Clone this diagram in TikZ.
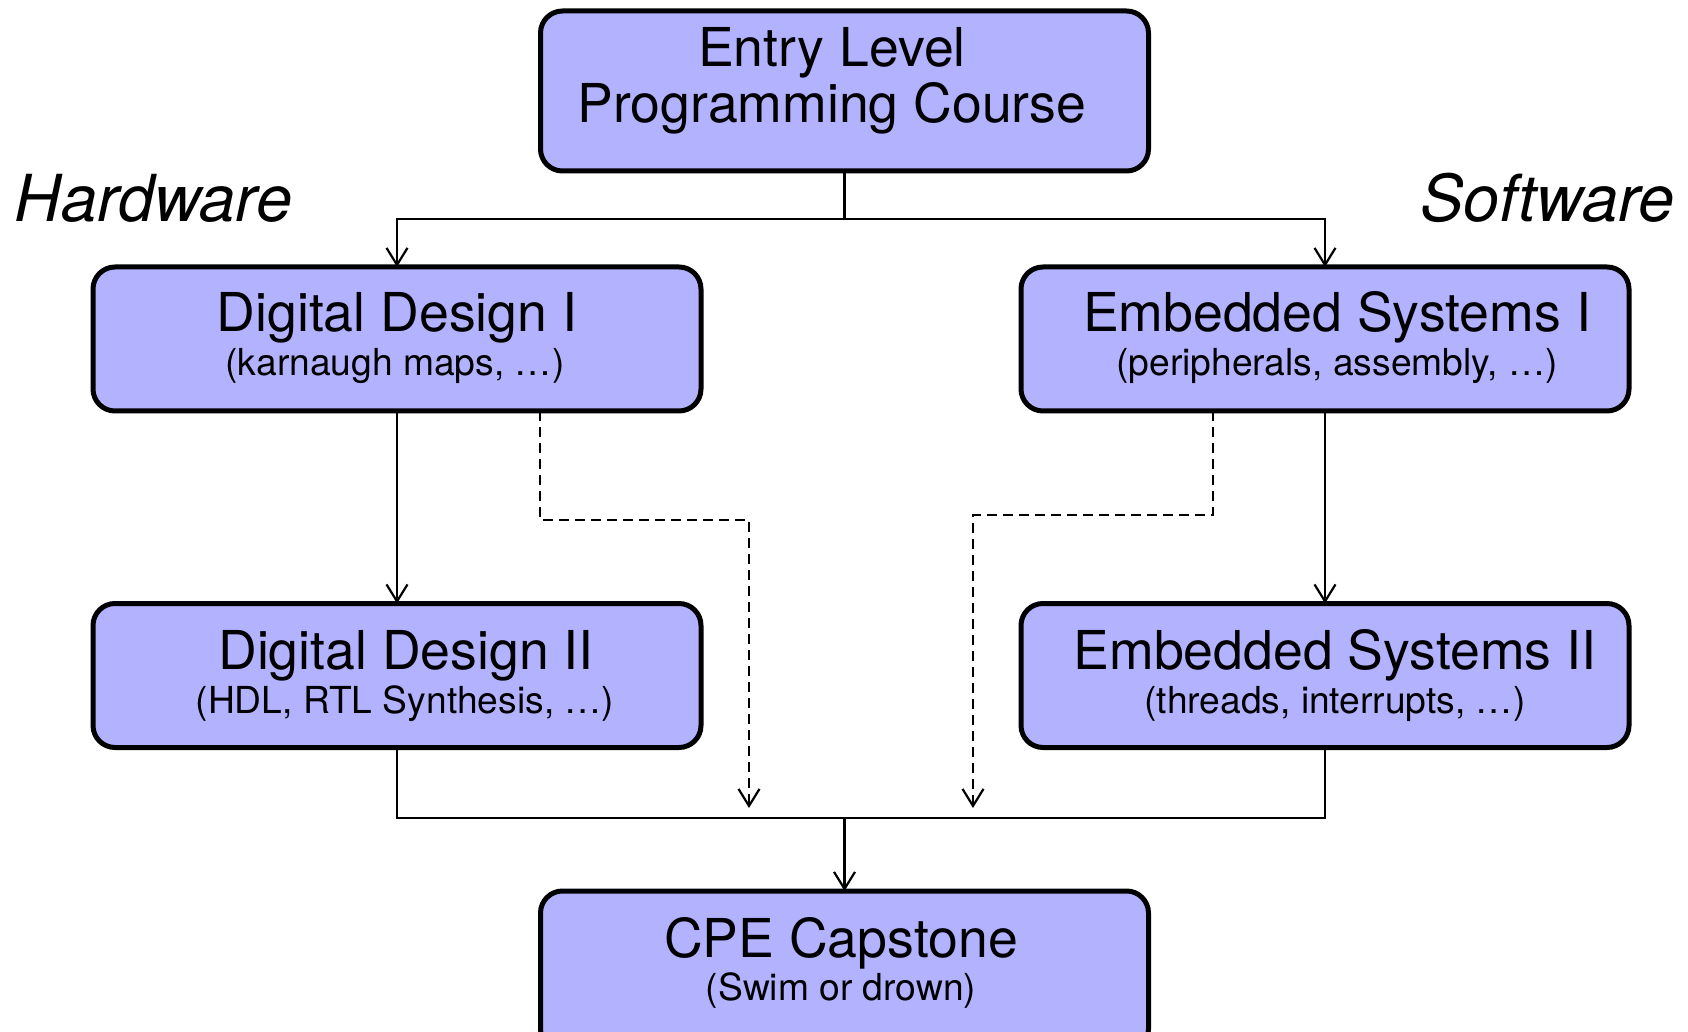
\documentclass[tikz,border=0pt]{standalone}
\usepackage{fontspec}
\setmainfont{TeX Gyre Heros}
\usetikzlibrary{arrows.meta}
\begin{document}
\begin{tikzpicture}[x=0.5pt,y=-0.5pt,
  course/.style={draw=black, line width=2.5pt, fill=blue!30, rounded corners=11pt,
                 minimum width=304pt, inner sep=0pt, outer sep=0pt},
  low/.style={minimum height=72pt},
  high/.style={minimum height=80pt},
  ctitle/.style={anchor=base, inner sep=0pt, font=\fontsize{26.8}{29}\selectfont},
  csub/.style={anchor=base, inner sep=0pt, font=\fontsize{18.6}{20}\selectfont},
  track/.style={anchor=base, inner sep=0pt, font=\fontsize{32.4}{35}\selectfont\itshape},
  link/.style={line width=1.1pt},
  arr/.style={link, -{Straight Barb[length=8.5pt,width=10.5pt]}},
  opt/.style={arr, dash pattern=on 5pt off 3pt},
]
\useasboundingbox (0,0) rectangle (1688,1032);
\clip (0,0) rectangle (1688,1032);

% course boxes
\node[course, high] (entry) at (844.5,91)  {};
\node[course, low]  (dd1)   at (397,339)   {};
\node[course, low]  (es1)   at (1325,339)  {};
\node[course, low]  (dd2)   at (397,675.5) {};
\node[course, low]  (es2)   at (1325,675.5){};
\node[course, high] (cap)   at (844.5,971) {};

% box texts
\node[ctitle] (entry-a) at (832,67)  {Entry Level};
\node[ctitle] (entry-b) at (832,123) {Programming Course};
\node[ctitle] (dd1-a)   at (397,332) {Digital Design I};
\node[csub]   (dd1-b)   at (395,376) {(karnaugh maps, \dots)};
\node[ctitle] (es1-a)   at (1337,332) {Embedded Systems I};
\node[csub]   (es1-b)   at (1337,376) {(peripherals, assembly, \dots)};
\node[ctitle] (dd2-a)   at (406,669) {Digital Design II};
\node[csub]   (dd2-b)   at (405,713) {(HDL, RTL Synthesis, \dots)};
\node[ctitle] (es2-a)   at (1335,669) {Embedded Systems II};
\node[csub]   (es2-b)   at (1335,713) {(threads, interrupts, \dots)};
\node[ctitle] (cap-a)   at (841,957) {CPE Capstone};
\node[csub]   (cap-b)   at (841,1000) {(Swim or drown)};

% track labels
\node[track, anchor=base west] (hw) at (14,222)   {Hardware};
\node[track, anchor=base east] (sw) at (1675,222) {Software};

% junctions and dashed routes
\coordinate (split) at (844.5,219);
\coordinate (merge) at (844.5,818);
\coordinate (hwtap) at (540,520);
\coordinate (hwend) at (749,808);
\coordinate (swtap) at (1213,515);
\coordinate (swend) at (973,808);

% solid prerequisites
\draw[link] (entry.south) -- (split);
\draw[arr] (split) -| (dd1.north);
\draw[arr] (split) -| (es1.north);
\draw[arr] (dd1.south) -- (dd2.north);
\draw[arr] (es1.south) -- (es2.north);
\draw[link] (dd2.south) |- (merge) -| (es2.south);
\draw[arr] (merge) -- (cap.north);

% optional routes
\draw[opt] (hwtap |- dd1.south) -- (hwtap) -| (hwend);
\draw[opt] (swtap |- es1.south) -- (swtap) -| (swend);
\end{tikzpicture}
\end{document}
